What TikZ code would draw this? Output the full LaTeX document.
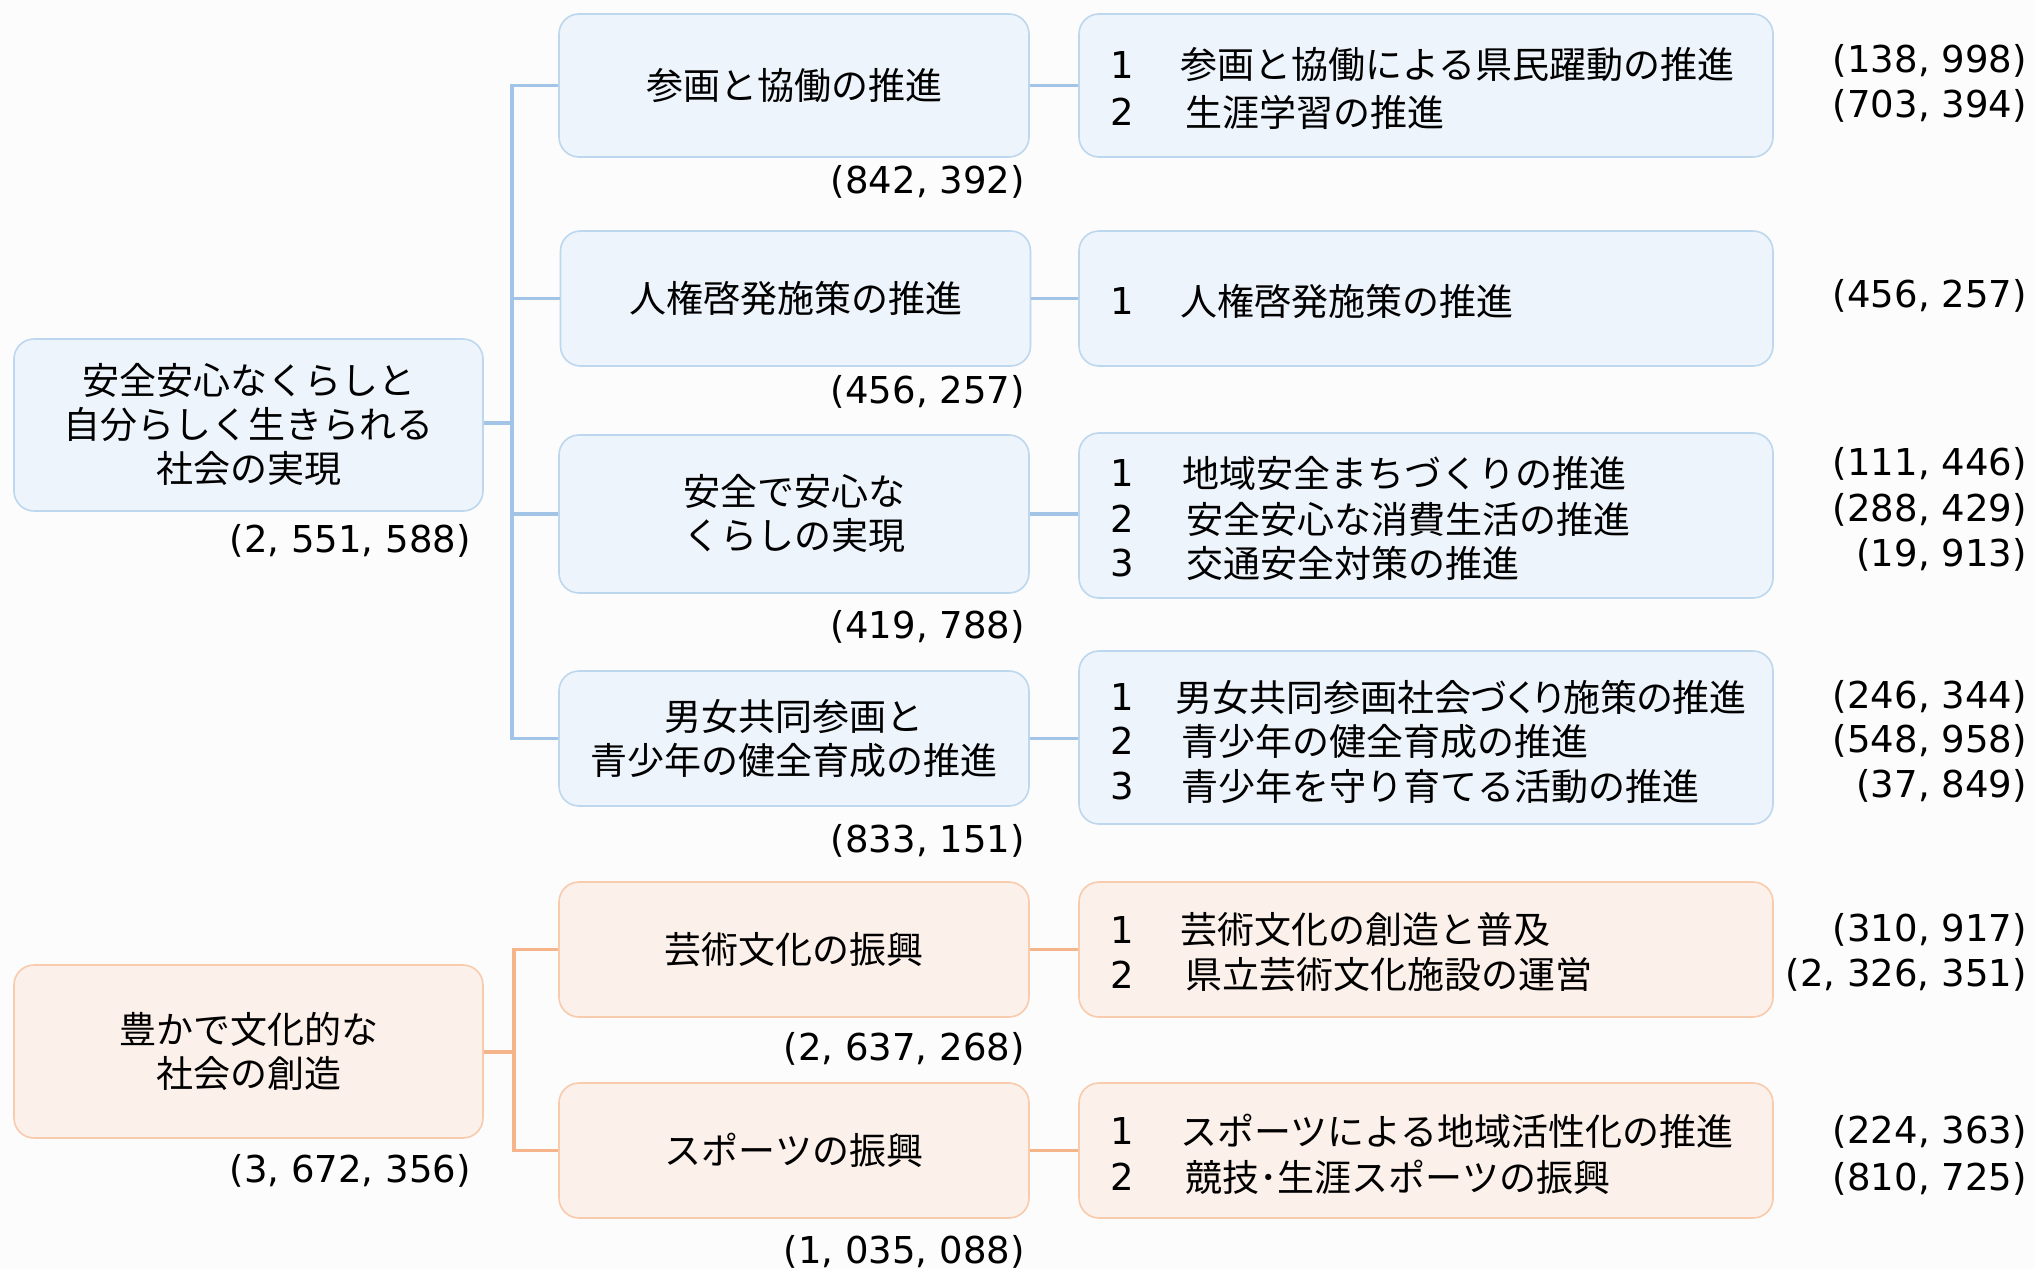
\documentclass[tikz,border=0pt]{standalone}
\usepackage{fontspec}
\setmainfont{Noto Sans CJK JP}
\newfontfamily\numfont{DejaVu Sans}
\begin{document}
\begin{tikzpicture}[x=0.5pt,y=-0.5pt,
  every node/.style={font=\fontsize{18.5}{22}\selectfont, inner sep=0pt},
  bbox/.style={draw=bborder, fill=bfill, line width=0.8pt, rounded corners=10pt, align=center},
  obox/.style={draw=oborder, fill=ofill, line width=0.8pt, rounded corners=10pt, align=center},
  bline/.style={draw=blinec, line width=1.6pt},
  oline/.style={draw=olinec, line width=1.6pt},
  lw/.style={minimum width=234.5pt},
  mw/.style={minimum width=235pt},
  rw/.style={minimum width=347pt},
  lbl/.style={anchor=east, font=\fontsize{18.5}{22}\selectfont\numfont},
  num/.style={anchor=west, font=\fontsize{18.5}{22}\selectfont\numfont},
  itm/.style={anchor=west}
]
\definecolor{bfill}{HTML}{EEF4FB}
\definecolor{bborder}{HTML}{BDD7EE}
\definecolor{blinec}{HTML}{A2C4E6}
\definecolor{ofill}{HTML}{FCF0EA}
\definecolor{oborder}{HTML}{F8CBAD}
\definecolor{olinec}{HTML}{F5B48A}
\definecolor{bg}{HTML}{FCFCFC}
\fill[bg] (0,0) rectangle (2034,1269);
\useasboundingbox (0,0) rectangle (2034,1269);

% left boxes
\node[bbox, lw, minimum height=86pt] (L1) at (248.5,425) {安全安心なくらしと\\自分らしく生きられる\\社会の実現};
\node[obox, lw, minimum height=86.5pt] (L2) at (248.5,1051.5) {豊かで文化的な\\社会の創造};
\node[lbl] (L1n) at (471,541) {(2, 551, 588)};
\node[lbl] (L2n) at (471,1171) {(3, 672, 356)};

% middle boxes
\node[bbox, mw, minimum height=71.5pt] (M1) at (794,85.5) {参画と協働の推進};
\node[bbox, mw, minimum height=67.5pt] (M2) at (795.5,298.5) {人権啓発施策の推進};
\node[bbox, mw, minimum height=79pt] (M3) at (794,514) {安全で安心な\\くらしの実現};
\node[bbox, mw, minimum height=67.5pt] (M4) at (794,738.5) {男女共同参画と\\青少年の健全育成の推進};
\node[obox, mw, minimum height=67.5pt] (M5) at (794,949.5) {芸術文化の振興};
\node[obox, mw, minimum height=67.5pt] (M6) at (794,1150.5) {スポーツの振興};
\node[lbl] (M1n) at (1025,182) {(842, 392)};
\node[lbl] (M2n) at (1025,392) {(456, 257)};
\node[lbl] (M3n) at (1025,627) {(419, 788)};
\node[lbl] (M4n) at (1025,841) {(833, 151)};
\node[lbl] (M5n) at (1025,1049) {(2, 637, 268)};
\node[lbl] (M6n) at (1025,1252) {(1, 035, 088)};

% right boxes
\node[bbox, rw, minimum height=71.5pt] (R1) at (1426,85.5) {};
\node[bbox, rw, minimum height=67.5pt] (R2) at (1426,298.5) {};
\node[bbox, rw, minimum height=82.5pt] (R3) at (1426,515.5) {};
\node[bbox, rw, minimum height=86.5pt] (R4) at (1426,737.5) {};
\node[obox, rw, minimum height=67.5pt] (R5) at (1426,949.5) {};
\node[obox, rw, minimum height=67.5pt] (R6) at (1426,1150.5) {};

% items
\node[num] (r1a) at (1110,65) {1}; \node[itm] (t1a) at (1180,65) {参画と協働による県民躍動の推進};
\node[num] (r1b) at (1110,112) {2}; \node[itm] (t1b) at (1185,112) {生涯学習の推進};
\node[num] (r2a) at (1110,301) {1}; \node[itm] (t2a) at (1180,301) {人権啓発施策の推進};
\node[num] (r3a) at (1110,473) {1}; \node[itm] (t3a) at (1182,473) {地域安全まちづくりの推進};
\node[num] (r3b) at (1110,519) {2}; \node[itm] (t3b) at (1186,519) {安全安心な消費生活の推進};
\node[num] (r3c) at (1110,563) {3}; \node[itm] (t3c) at (1186,563) {交通安全対策の推進};
\node[num] (r4a) at (1110,697) {1}; \node[itm] (t4a) at (1175,697) {\addfontfeature{RawFeature=+palt}男女共同参画社会づくり施策の推進};
\node[num] (r4b) at (1110,741) {2}; \node[itm] (t4b) at (1181,741) {青少年の健全育成の推進};
\node[num] (r4c) at (1110,786) {3}; \node[itm] (t4c) at (1181,786) {青少年を守り育てる活動の推進};
\node[num] (r5a) at (1110,930) {1}; \node[itm] (t5a) at (1180,930) {芸術文化の創造と普及};
\node[num] (r5b) at (1110,975) {2}; \node[itm] (t5b) at (1185,975) {県立芸術文化施設の運営};
\node[num] (r6a) at (1110,1131) {1}; \node[itm] (t6a) at (1180,1131) {スポーツによる地域活性化の推進};
\node[num] (r6b) at (1110,1177) {2}; \node[itm] (t6b) at (1185,1177) {競技･生涯スポーツの振興};

% amounts
\node[lbl] (a1a) at (2027,61) {(138, 998)};
\node[lbl] (a1b) at (2027,106) {(703, 394)};
\node[lbl] (a2a) at (2027,296) {(456, 257)};
\node[lbl] (a3a) at (2027,464) {(111, 446)};
\node[lbl] (a3b) at (2027,510) {(288, 429)};
\node[lbl] (a3c) at (2027,555) {(19, 913)};
\node[lbl] (a4a) at (2027,697) {(246, 344)};
\node[lbl] (a4b) at (2027,741) {(548, 958)};
\node[lbl] (a4c) at (2027,786) {(37, 849)};
\node[lbl] (a5a) at (2027,930) {(310, 917)};
\node[lbl] (a5b) at (2027,975) {(2, 326, 351)};
\node[lbl] (a6a) at (2027,1132) {(224, 363)};
\node[lbl] (a6b) at (2027,1179) {(810, 725)};

% connectors blue
\coordinate (jb) at (512,423);
\draw[bline] (L1.east |- jb) -- (jb);
\draw[bline] (M1.west) -- (M1.west -| jb) -- (M4.west -| jb) -- (M4.west);
\draw[bline] (M2.west -| jb) -- (M2.west);
\draw[bline] (M3.west -| jb) -- (M3.west);
\foreach \i in {1,2,3,4} \draw[bline] (M\i.east) -- (R\i.west |- M\i.east);
% connectors orange
\coordinate (jo) at (514,1052);
\draw[oline] (L2.east |- jo) -- (jo);
\draw[oline] (M5.west) -- (M5.west -| jo) -- (M6.west -| jo) -- (M6.west);
\foreach \i in {5,6} \draw[oline] (M\i.east) -- (R\i.west |- M\i.east);
\end{tikzpicture}
\end{document}
